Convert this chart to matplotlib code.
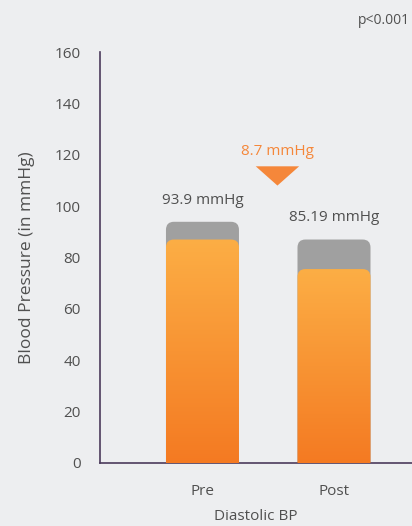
import numpy as np
import matplotlib.pyplot as plt
from matplotlib.patches import FancyBboxPatch, Polygon
from matplotlib.colors import LinearSegmentedColormap

plt.rcParams['font.family'] = ['Open Sans', 'DejaVu Sans']

categories = ["Pre", "Post"]
baseline = [93.9, 87.0]      # gray bars
treated = [87.0, 75.5]       # orange bars
value_labels = ["93.9 mmHg", "85.19 mmHg"]
diff_label = "8.7 mmHg"
yticks = [0, 20, 40, 60, 80, 100, 120, 140, 160]

bg = "#edeef0"
text_col = "#505050"
orange = "#f5873a"

fig = plt.figure(figsize=(4.12, 5.26), dpi=100, facecolor=bg)
ax = fig.add_axes([100 / 412, 1 - 463 / 526, 312 / 412, 411 / 526], facecolor=bg)

ax.set_xlim(-0.779, 1.593)
ax.set_ylim(0, 160)
width = 0.555
r = 0.06
aspect = 52

cmap = LinearSegmentedColormap.from_list("og", ["#f47a22", "#fcae45"])
grad = np.linspace(0, 1, 256).reshape(-1, 1)

for i, (g, o) in enumerate(zip(baseline, treated)):
    x0 = i - width / 2
    gray = FancyBboxPatch((x0, -10), width, g + 10,
                          boxstyle=f"round,pad=0,rounding_size={r}",
                          mutation_aspect=aspect, fc="#a0a0a0", ec="none", zorder=2)
    ax.add_patch(gray)
    clip = FancyBboxPatch((x0, -10), width, o + 10,
                          boxstyle=f"round,pad=0,rounding_size={r}",
                          mutation_aspect=aspect, fc="none", ec="none", zorder=3)
    ax.add_patch(clip)
    im = ax.imshow(grad, cmap=cmap, origin="lower", aspect="auto",
                   extent=[x0, x0 + width, 0, o], zorder=3)
    im.set_clip_path(clip)
    ax.text(i, g + 5.5, value_labels[i], ha="center", va="bottom",
            fontsize=11, color=text_col)

# difference marker
mid = 0.57
tri = Polygon([[mid - 0.165, 115.5], [mid + 0.165, 115.5], [mid, 108]],
              closed=True, fc=orange, ec="none", zorder=4)
ax.add_patch(tri)
ax.text(mid, 118.5, diff_label, ha="center", va="bottom", fontsize=11, color=orange)

ax.set_xticks(range(len(categories)))
ax.set_xticklabels(categories, fontsize=11, color=text_col)
ax.set_yticks(yticks)
ax.set_yticklabels([str(t) for t in yticks], fontsize=11, color=text_col)
ax.tick_params(axis="both", length=0)
ax.tick_params(axis="y", pad=14)
ax.tick_params(axis="x", pad=15)
ax.set_xlabel("Diastolic BP", fontsize=11, color=text_col, labelpad=7)
ax.set_ylabel("Blood Pressure (in mmHg)", fontsize=12.5, color=text_col, labelpad=14)

for s in ["top", "right"]:
    ax.spines[s].set_visible(False)
for s in ["left", "bottom"]:
    ax.spines[s].set_color("#4b3b5c")
    ax.spines[s].set_linewidth(1.2)

fig.text(0.995, 1 - 21 / 526, "p<0.001", ha="right", va="center",
         fontsize=10, color=text_col)

fig.savefig("out.png", dpi=100, facecolor=bg)
